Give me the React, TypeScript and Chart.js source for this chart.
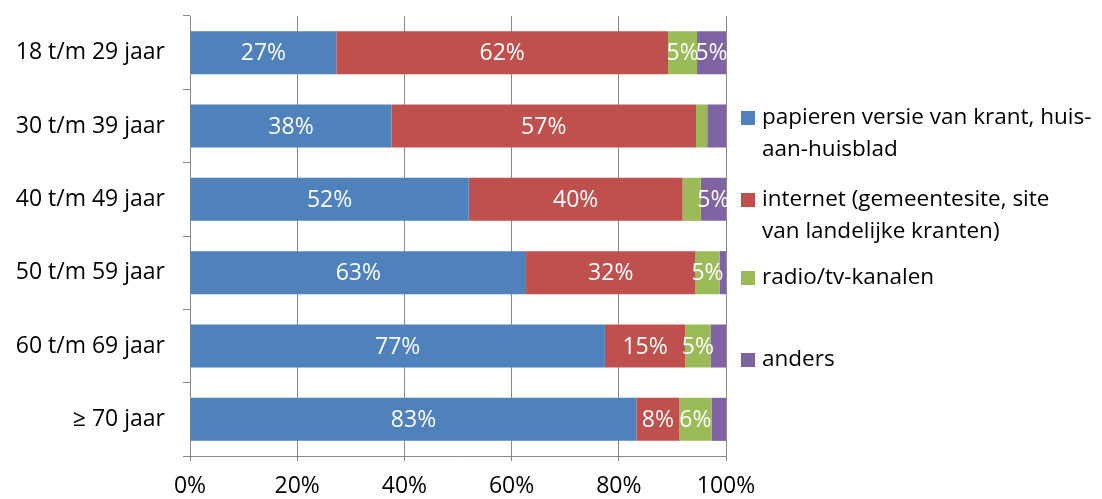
import React, { useEffect, useRef } from 'react';
import { Chart, registerables } from 'chart.js';

Chart.register(...registerables);

const categories = ['18 t/m 29 jaar', '30 t/m 39 jaar', '40 t/m 49 jaar', '50 t/m 59 jaar', '60 t/m 69 jaar', '≥ 70 jaar'];
const papier = [27.3, 37.6, 52.0, 62.7, 77.4, 83.3];
const internet = [61.9, 56.8, 39.9, 31.6, 15.0, 8.0];
const radioTv = [5.4, 2.1, 3.4, 4.5, 4.7, 6.0];
const anders = [5.4, 3.5, 4.7, 1.2, 2.9, 2.7];
const seriesNames = [
  'papieren versie van krant, huis-aan-huisblad',
  'internet (gemeentesite, site van landelijke kranten)',
  'radio/tv-kanalen',
  'anders',
];
const legendLines = [
  ['papieren versie van krant, huis-', 'aan-huisblad'],
  ['internet (gemeentesite, site', 'van landelijke kranten)'],
  ['radio/tv-kanalen'],
  ['anders'],
];
const seriesColors = ['#4F81BD', '#C0504D', '#9BBB59', '#8064A2'];
const xTicks = [0, 20, 40, 60, 80, 100];

const FONT = '"Open Sans", sans-serif';
const FS = 23;
const LEG_FS = 22.5;

const labelPlugin = {
  id: 'segLabels',
  afterDatasetsDraw(chart: any) {
    const ctx = chart.ctx;
    ctx.save();
    ctx.font = `${FS}px ${FONT}`;
    ctx.fillStyle = '#ffffff';
    ctx.textAlign = 'center';
    ctx.textBaseline = 'middle';
    chart.data.datasets.forEach((ds: any, di: number) => {
      const meta = chart.getDatasetMeta(di);
      meta.data.forEach((el: any, i: number) => {
        const v = ds.data[i];
        if (v < 4) return;
        const p = el.getProps(['x', 'y', 'base'], true);
        ctx.fillText(Math.round(v) + '%', (p.x + p.base) / 2, p.y + 1);
      });
    });
    ctx.restore();
  },
};

const legendPlugin = {
  id: 'wrapLegend',
  afterDraw(chart: any) {
    const ctx = chart.ctx;
    const ys = [118, 200, 278, 360];
    const lineGap = 32;
    ctx.save();
    ctx.font = `${LEG_FS}px ${FONT}`;
    ctx.textAlign = 'left';
    ctx.textBaseline = 'middle';
    legendLines.forEach((lines, i) => {
      const y0 = ys[i];
      ctx.fillStyle = seriesColors[i];
      ctx.fillRect(741, y0 - 7, 14, 14);
      ctx.fillStyle = '#000000';
      lines.forEach((t, li) => ctx.fillText(t, 762, y0 + li * lineGap));
    });
    ctx.restore();
  },
};

export default function App() {
  const ref = useRef<HTMLCanvasElement | null>(null);
  useEffect(() => {
    if (!ref.current) return;
    const chart = new Chart(ref.current, {
      type: 'bar',
      data: {
        labels: categories,
        datasets: [papier, internet, radioTv, anders].map((d, i) => ({
          label: seriesNames[i],
          data: d,
          backgroundColor: seriesColors[i],
          borderWidth: 0,
          barPercentage: 0.587,
          categoryPercentage: 1,
        })),
      },
      options: {
        indexAxis: 'y',
        responsive: false,
        animation: false,
        layout: { padding: { top: 16, right: 376, bottom: 0, left: 0 } },
        plugins: { legend: { display: false }, tooltip: { enabled: false } },
        scales: {
          x: {
            type: 'linear',
            stacked: true,
            min: 0,
            max: 100,
            afterBuildTicks: (s: any) => { s.ticks = xTicks.map((v) => ({ value: v })); },
            afterFit: (s: any) => { s.height = 43; s.paddingLeft = 0; s.paddingRight = 0; },
            ticks: { callback: (v: any) => v + '%', color: '#000', font: { family: FONT, size: FS }, padding: 12, maxRotation: 0 },
            grid: { color: '#888888', tickLength: 5, lineWidth: 1 },
            border: { color: '#888888' },
          },
          y: {
            type: 'category',
            stacked: true,
            afterFit: (s: any) => { s.width = 190; s.paddingTop = 0; s.paddingBottom = 0; },
            ticks: { color: '#000', font: { family: FONT, size: FS }, padding: 18 },
            grid: { drawOnChartArea: false, offset: true, tickLength: 7, color: '#888888' },
            border: { color: '#888888' },
          },
        },
      },
      plugins: [labelPlugin, legendPlugin],
    } as any);
    return () => chart.destroy();
  }, []);
  return (
    <div style={{ position: 'fixed', left: 0, top: 0, width: 1102, height: 499, background: '#fff' }}>
      <canvas ref={ref} width={1102} height={499} style={{ display: 'block' }} />
    </div>
  );
}
